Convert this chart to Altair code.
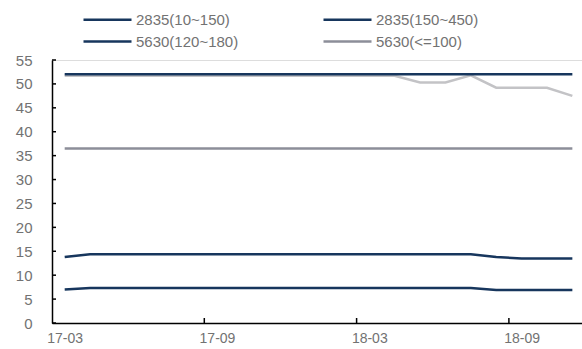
import json
import altair as alt
import pandas as pd

months = ["17-03", "17-04", "17-05", "17-06", "17-07", "17-08", "17-09", "17-10",
          "17-11", "17-12", "18-01", "18-02", "18-03", "18-04", "18-05", "18-06",
          "18-07", "18-08", "18-09", "18-10", "18-11"]

s_2835_10_150 = [7.0, 7.3, 7.3, 7.3, 7.3, 7.3, 7.3, 7.3, 7.3, 7.3, 7.3, 7.3, 7.3, 7.3,
                 7.3, 7.3, 7.3, 6.9, 6.9, 6.9, 6.9]
s_2835_150_450 = [13.8, 14.4, 14.4, 14.4, 14.4, 14.4, 14.4, 14.4, 14.4, 14.4, 14.4, 14.4,
                  14.4, 14.4, 14.4, 14.4, 14.4, 13.8, 13.5, 13.5, 13.5]
s_5630_120_180 = [52.0] * 21
s_5630_le100 = [36.5] * 21
s_5630_other = [51.7, 51.7, 51.7, 51.7, 51.7, 51.7, 51.7, 51.7, 51.7, 51.7, 51.7, 51.7,
                51.7, 51.7, 50.3, 50.3, 51.8, 49.2, 49.2, 49.2, 47.5]

names = ["2835(10~150)", "2835(150~450)", "5630(120~180)", "5630(<=100)", "5630(other)"]
colors = ["#17365d", "#17365d", "#17365d", "#8c8e99", "#c3c3c6"]
series = [s_2835_10_150, s_2835_150_450, s_5630_120_180, s_5630_le100, s_5630_other]

x_label_idx = [0, 6, 12, 18]
x_tick_pos = [5.5, 11.5, 17.5]
y_ticks = list(range(0, 56, 5))

rows = []
for n, vals in zip(names, series):
    for i, v in enumerate(vals):
        rows.append({"series": n, "i": i, "month": months[i], "value": v})
df = pd.DataFrame(rows)

W, H = 530, 263
FONT = "Liberation Sans"
TXT = "#727272"

xscale = alt.Scale(domain=[-0.5, 20.38], nice=False, zero=False)
yscale = alt.Scale(domain=[0, 55], nice=False)
cscale = alt.Scale(domain=names, range=colors)

label_expr = json.dumps(months) + "[datum.value]"

x_axis = alt.Axis(values=x_label_idx, labelExpr=label_expr, ticks=False, grid=False,
                  domainColor="#000000", domainWidth=1.5, labelPadding=8,
                  labelFont=FONT, labelFontSize=14, labelColor=TXT, title=None)
y_axis = alt.Axis(values=y_ticks, ticks=False, grid=False, domainColor="#000000",
                  domainWidth=1.5, labelPadding=20, labelFont=FONT, labelFontSize=15,
                  labelColor=TXT, title=None)

legend = alt.Legend(values=names[:4], orient="none", legendX=42, legendY=-54, columns=2,
                    direction="horizontal",
                    symbolType="M-2,0H2", symbolSize=576, symbolStrokeWidth=2.5,
                    labelFont=FONT, labelFontSize=15, labelColor=TXT, labelOffset=15,
                    columnPadding=79, rowPadding=-2, title=None)

base = alt.Chart(df)

other = base.transform_filter(alt.datum.series == names[4]).mark_line(strokeWidth=2.5).encode(
    x=alt.X("i:Q", scale=xscale, axis=x_axis),
    y=alt.Y("value:Q", scale=yscale, axis=y_axis),
    color=alt.Color("series:N", scale=cscale, legend=legend, sort=names),
    detail="series:N",
)
main = base.transform_filter(alt.datum.series != names[4]).mark_line(strokeWidth=2.5).encode(
    x=alt.X("i:Q", scale=xscale, axis=x_axis),
    y=alt.Y("value:Q", scale=yscale, axis=y_axis),
    color=alt.Color("series:N", scale=cscale, legend=legend, sort=names),
    detail="series:N",
)

xt = alt.Chart(pd.DataFrame({"t": x_tick_pos})).mark_rule(color="#000000", strokeWidth=1.5).encode(
    x=alt.X("t:Q", scale=xscale, axis=x_axis),
    y=alt.value(H - 5), y2=alt.value(H),
)
yt = alt.Chart(pd.DataFrame({"t": y_ticks})).mark_rule(color="#000000", strokeWidth=1.5).encode(
    y=alt.Y("t:Q", scale=yscale, axis=y_axis),
    x=alt.value(0), x2=alt.value(4),
)

chart = alt.layer(other, main, xt, yt).properties(
    width=W, height=H,
    autosize=alt.AutoSizeParams(type="none"),
    padding={"left": 52, "top": 60, "right": 0, "bottom": 26},
).configure_view(stroke=None).configure(background="#ffffff")

chart.save("out.html", embed_options={"renderer": "svg", "actions": False})
